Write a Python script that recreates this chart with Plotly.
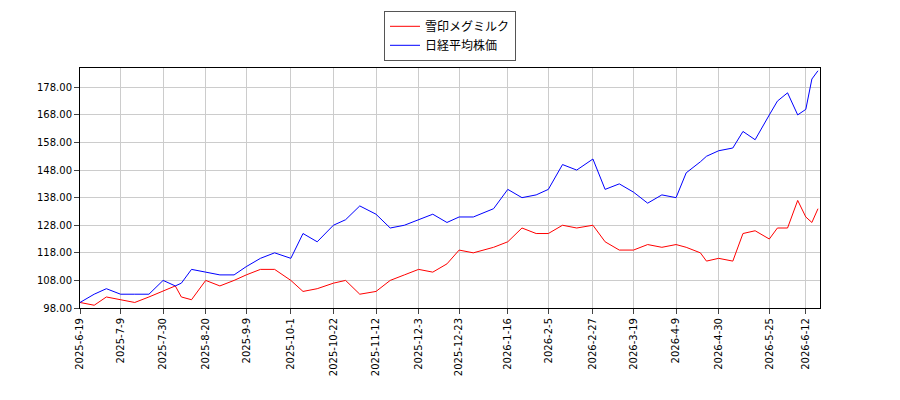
import plotly.graph_objects as go

dates = ["2025-06-19","2025-06-26","2025-07-02","2025-07-09","2025-07-16","2025-07-23","2025-07-30","2025-08-05","2025-08-08","2025-08-13","2025-08-20","2025-08-27","2025-09-03","2025-09-09","2025-09-16","2025-09-23","2025-10-01","2025-10-07","2025-10-14","2025-10-22","2025-10-28","2025-11-04","2025-11-12","2025-11-19","2025-11-26","2025-12-03","2025-12-10","2025-12-17","2025-12-23","2025-12-30","2026-01-09","2026-01-16","2026-01-23","2026-01-30","2026-02-05","2026-02-12","2026-02-19","2026-02-27","2026-03-05","2026-03-12","2026-03-19","2026-03-26","2026-04-02","2026-04-09","2026-04-14","2026-04-21","2026-04-24","2026-04-30","2026-05-07","2026-05-12","2026-05-18","2026-05-25","2026-05-29","2026-06-03","2026-06-08","2026-06-12","2026-06-15","2026-06-18"]
nikkei = [100,103,105,103,103,103,108,106,107,112,111,110,110,113,116,118,116,125,122,128,130,135,132,127,128,130,132,129,131,131,134,141,138,139,141,150,148,152,141,143,140,136,139,138,147,151,153,155,156,162,159,168,173,176,168,170,181,184]
snow = [100,99,102,101,100,102,104,106,102,101,108,106,108,110,112,112,108,104,105,107,108,103,104,108,110,112,111,114,119,118,120,122,127,125,125,128,127,128,122,119,119,121,120,121,120,118,115,116,115,125,126,123,127,127,137,131,129,134]
tick_dates = ["2025-06-19","2025-07-09","2025-07-30","2025-08-20","2025-09-09","2025-10-01","2025-10-22","2025-11-12","2025-12-03","2025-12-23","2026-01-16","2026-02-05","2026-02-27","2026-03-19","2026-04-09","2026-04-30","2026-05-25","2026-06-12"]
tick_text = ["2025-6-19","2025-7-9","2025-7-30","2025-8-20","2025-9-9","2025-10-1","2025-10-22","2025-11-12","2025-12-3","2025-12-23","2026-1-16","2026-2-5","2026-2-27","2026-3-19","2026-4-9","2026-4-30","2026-5-25","2026-6-12"]
yticks = [98,108,118,128,138,148,158,168,178]

fig = go.Figure()
fig.add_trace(go.Scatter(x=dates, y=snow, mode="lines", name="雪印メグミルク", line=dict(color="red", width=1)))
fig.add_trace(go.Scatter(x=dates, y=nikkei, mode="lines", name="日経平均株価", line=dict(color="blue", width=1)))
fig.update_layout(
    width=900, height=400, paper_bgcolor="white", plot_bgcolor="white",
    margin=dict(l=72, r=88, t=60, b=100, autoexpand=False),
    font=dict(family="DejaVu Sans", size=11, color="black"),
    legend=dict(x=0.5, y=1.03, xanchor="center", yanchor="bottom", bordercolor="#555", borderwidth=1,
                font=dict(size=12, family="Noto Sans CJK JP")),
)
fig.update_xaxes(range=["2025-06-19","2026-06-19"], tickvals=tick_dates, ticktext=tick_text, tickangle=-90,
                 showgrid=True, gridcolor="#ccc", showline=True, linecolor="black", mirror=True, ticks="outside",
                 tickfont=dict(size=10), automargin=False)
fig.update_yaxes(range=[98, 185], tickvals=yticks, tickformat=".2f", showgrid=True, gridcolor="#ccc",
                 showline=True, linecolor="black", mirror=True, ticks="outside", tickfont=dict(size=10), automargin=False)
fig.write_html("out.html")
